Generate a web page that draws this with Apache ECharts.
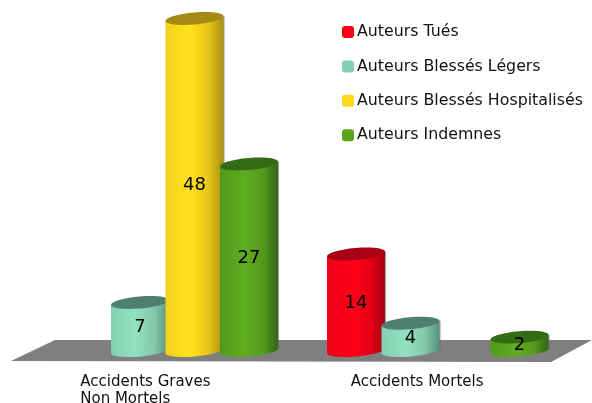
<!DOCTYPE html>
<html>
<head>
<meta charset="utf-8">
<script src="https://cdn.jsdelivr.net/npm/echarts@6/dist/echarts.min.js"></script>
<style>
html, body { margin: 0; padding: 0; background: #fff; overflow: hidden; }
#main { width: 592px; height: 403px; }
</style>
</head>
<body>
<div id="main"></div>
<script>
var categories = ['Accidents Graves\nNon Mortels', 'Accidents Mortels'];
var seriesNames = ['Auteurs Tués', 'Auteurs Blessés Légers', 'Auteurs Blessés Hospitalisés', 'Auteurs Indemnes'];
var tues = [null, 14];
var legers = [7, 4];
var hospitalises = [48, null];
var indemnes = [27, 2];
var seriesValues = [tues, legers, hospitalises, indemnes];

// legend colour, cylinder gradient (left to right), lid colour
var legendColors = ['#ff0018', '#84cfb3', '#ffd71f', '#5aa51d'];
var bodyColors = [
  ['#ee0016', '#ff0018', '#e60016', '#a20012'],
  ['#82cfb3', '#93e0c2', '#82c8ac', '#55917e'],
  ['#f5cf1f', '#ffe31c', '#e7c419', '#a98d15'],
  ['#4f9a1b', '#5fad20', '#55991c', '#33661a']
];
var lidColors = ['#a80012', '#4f7f70', '#a48a12', '#356b15'];

var FONT = '"DejaVu Sans"';
var SLOT = 54.5, RX = 29, RY = 6, TILT = 0.085;

function bodyGradient(i) {
  var c = bodyColors[i];
  return new echarts.graphic.LinearGradient(0, 0, 1, 0, [
    { offset: 0, color: c[0] },
    { offset: 0.42, color: c[1] },
    { offset: 0.75, color: c[2] },
    { offset: 1, color: c[3] }
  ]);
}

function renderCylinder(params, api) {
  var i = params.seriesIndex;
  var top = api.coord([api.value(0), api.value(1)]);
  var base = api.coord([api.value(0), 0]);
  var x = top[0] + (i - 1.5) * SLOT;
  var dy = RX * Math.sin(TILT);
  var fill = bodyGradient(i);
  return {
    type: 'group',
    children: [
      {
        type: 'polygon',
        shape: { points: [[x - RX, top[1] + dy], [x + RX, top[1] - dy], [x + RX, base[1] - dy], [x - RX, base[1] + dy]] },
        style: { fill: fill, shadowColor: 'rgba(90,90,80,0.6)', shadowBlur: 1, shadowOffsetX: 1 }
      },
      {
        type: 'ellipse',
        shape: { cx: x, cy: base[1], rx: RX, ry: RY - 0.5 },
        originX: x, originY: base[1], rotation: TILT,
        style: { fill: fill }
      },
      {
        type: 'ellipse',
        shape: { cx: x, cy: top[1], rx: RX, ry: RY },
        originX: x, originY: top[1], rotation: TILT,
        style: { fill: lidColors[i] }
      },
      {
        type: 'text',
        style: {
          text: String(api.value(1)),
          x: x,
          y: (top[1] + base[1]) / 2 + 1,
          align: 'center',
          verticalAlign: 'middle',
          fill: '#000',
          font: '18px ' + FONT
        }
      }
    ]
  };
}

var series = [];
for (var i = 0; i < seriesNames.length; i++) {
  var rows = [];
  for (var j = 0; j < categories.length; j++) {
    if (seriesValues[i][j] !== null) rows.push([j, seriesValues[i][j]]);
  }
  series.push({
    name: seriesNames[i],
    type: 'custom',
    renderItem: renderCylinder,
    encode: { x: 0, y: 1 },
    itemStyle: { color: legendColors[i] },
    data: rows,
    clip: false
  });
}

var myChart = echarts.init(document.getElementById('main'));
var option = {
  animation: false,
  backgroundColor: '#fff',
  grid: { left: 32, right: 19, top: 18.5, bottom: 52, outerBoundsMode: 'none' },
  legend: {
    orient: 'vertical',
    left: 337,
    top: 19,
    itemWidth: 12,
    itemHeight: 12,
    itemGap: 18.4,
    icon: 'roundRect',
    textStyle: { color: '#111', fontFamily: FONT, fontSize: 15.8, padding: [0, 0, 0, -2] },
    data: seriesNames
  },
  xAxis: {
    type: 'category',
    data: categories,
    axisLine: { show: false },
    axisTick: { show: false },
    axisLabel: {
      interval: 0,
      margin: 23,
      padding: [0, 43, 0, 0],
      formatter: function (v) {
        return v.split('\n').map(function (s) { return '{a|' + s + '}'; }).join('\n');
      },
      rich: {
        a: { width: 131, align: 'left', color: '#111', fontFamily: FONT, fontSize: 15, lineHeight: 17 }
      }
    }
  },
  yAxis: { type: 'value', min: 0, max: 48, show: false },
  graphic: [{
    type: 'polygon',
    z: 0,
    shape: { points: [[11, 361], [55, 340], [592, 340], [551, 362]] },
    style: { fill: '#7f7f7f' }
  }],
  series: series
};
myChart.setOption(option);
</script>
</body>
</html>
